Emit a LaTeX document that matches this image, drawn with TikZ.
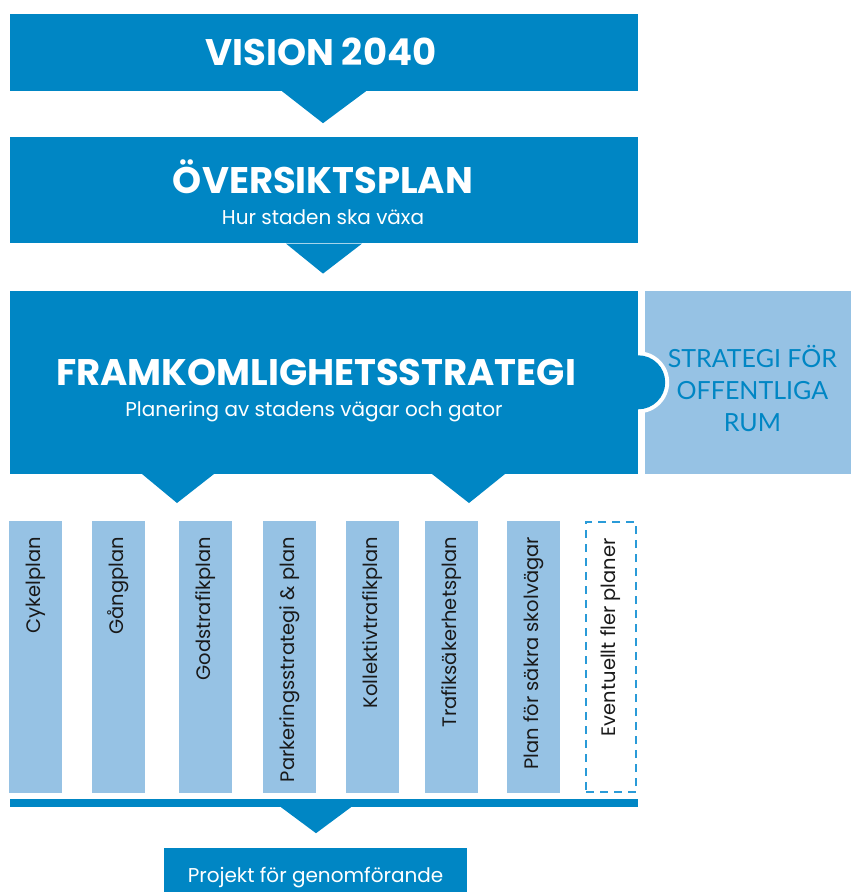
\documentclass[tikz,border=0pt]{standalone}
\usepackage{fontspec}
\setmainfont{Poppins}
\newfontfamily\latofont{Lato}
\usetikzlibrary{positioning,calc}
\definecolor{dblue}{HTML}{0086C4}
\definecolor{lblue}{HTML}{96C2E4}
\definecolor{dashblue}{HTML}{2A9BD8}

\begin{document}
\begin{tikzpicture}[x=1pt,y=-1pt,
  big/.style = {fill=dblue, minimum width=628pt, inner sep=0pt},
  col/.style = {fill=lblue, minimum width=53pt, minimum height=272pt, inner sep=0pt},
  coltext/.style = {rotate=90, anchor=east, inner sep=0pt, text=black!90, font=\fontsize{19.5}{20}\selectfont},
  title/.style = {anchor=base, text=white, font=\bfseries\fontsize{37}{40}\selectfont},
  sub/.style = {anchor=base, text=white, font=\fontsize{20}{22}\selectfont},
  arr/.style = {fill=dblue}]
\useasboundingbox (0,0) rectangle (851,892);

\node[big, minimum height=77pt] (vision) at (324,52.5) {};
\node[big, minimum height=106pt] (oversikt) [below=46pt of vision] {};
\node[big, minimum height=183pt] (framk) [below=47pt of oversikt] {};
\node[fill=lblue, minimum width=206pt, minimum height=183pt, inner sep=0pt] (strat) [right=7pt of framk] {};

\node[title] (vtitle) at ($(vision.center)+(-3,12.5)$) {VISION 2040};
\node[title] (otitle) at ($(oversikt.center)+(-1,3)$) {ÖVERSIKTSPLAN};
\node[sub] (osub) at ($(oversikt.center)+(-1,34)$) {Hur staden ska växa};
\node[title] (ftitle) at ($(framk.center)+(-8,3.5)$) {FRAMKOMLIGHETSSTRATEGI};
\node[sub] (fsub) at ($(framk.center)+(-10,34.5)$) {Planering av stadens vägar och gator};
\node[align=center, text=dblue, font=\latofont\fontsize{25}{32}\selectfont] (stext) at ($(strat.center)+(4,6.5)$) {STRATEGI FÖR\\OFFENTLIGA\\RUM};

% bump between the two strategies
\fill[white] (framk.east) ++(0,-31) arc[start angle=-90, end angle=90, radius=31] -- cycle;
\fill[dblue] (framk.east) ++(0,-27) arc[start angle=-90, end angle=90, radius=27] -- cycle;

% columns
\node[col] (c1) at (35.5,657) {};
\node[col] (c2) at (118.5,657) {};
\node[col] (c3) at (205.5,657) {};
\node[col] (c4) at (289.5,657) {};
\node[col] (c5) at (372.5,657) {};
\node[col] (c6) at (451.5,657) {};
\node[col] (c7) at (533.5,657) {};
\node[draw=dashblue, line width=2pt, dash pattern=on 8pt off 6pt, minimum width=50pt, minimum height=270pt, inner sep=0pt] (c8) at (611,657) {};
\node[coltext] (t1) at ([yshift=-16pt]c1.north) {Cykelplan};
\node[coltext] (t2) at ([yshift=-16pt]c2.north) {Gångplan};
\node[coltext] (t3) at ([yshift=-16pt]c3.north) {Godstrafikplan};
\node[coltext] (t4) at ([yshift=-16pt]c4.north) {Parkeringsstrategi \& plan};
\node[coltext] (t5) at ([yshift=-16pt]c5.north) {Kollektivtrafikplan};
\node[coltext] (t6) at ([yshift=-16pt]c6.north) {Trafiksäkerhetsplan};
\node[coltext] (t7) at ([yshift=-16pt]c7.north) {Plan för säkra skolvägar};
\node[coltext] (t8) at ([yshift=-17pt]c8.north) {Eventuellt fler planer};

\node[big, minimum height=8pt] (bar) at (324,803) {};
\node[fill=dblue, minimum width=303pt, minimum height=46pt, inner sep=0pt] (projekt) at (315.5,871) {};
\node[sub] (ptext) at ($(projekt.center)+(0,11)$) {Projekt för genomförande};

% arrows
\fill[arr] ($(vision.south)+(-42,0)$) -- ($(vision.south)+(42,0)$) -- ($(vision.south)+(-1,32)$) -- cycle;
\fill[arr] ($(oversikt.south)+(-38,0)$) -- ($(oversikt.south)+(38,0)$) -- ($(oversikt.south)+(-1,30)$) -- cycle;
\fill[arr] ($(framk.south)+(-182,0)$) -- ($(framk.south)+(-110,0)$) -- ($(framk.south)+(-147,29)$) -- cycle;
\fill[arr] ($(framk.south)+(108,0)$) -- ($(framk.south)+(181,0)$) -- ($(framk.south)+(145,29)$) -- cycle;
\fill[arr] ($(bar.south)+(-43,0)$) -- ($(bar.south)+(27,0)$) -- ($(bar.south)+(-8,26)$) -- cycle;
\end{tikzpicture}
\end{document}
